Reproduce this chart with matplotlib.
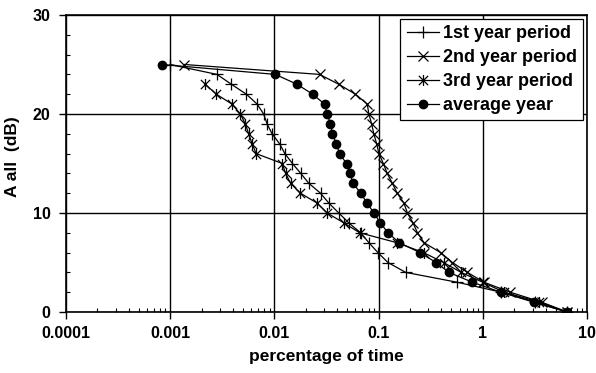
import matplotlib
matplotlib.use("Agg")
import matplotlib.pyplot as plt
from matplotlib.path import Path
from matplotlib.ticker import FixedLocator, NullFormatter, FixedFormatter

plt.rcParams['font.family'] = ['Liberation Sans', 'DejaVu Sans']
plt.rcParams['font.weight'] = 'bold'

# Attenuation levels (dB) and percentage of time exceeded
year1_db = [25, 24, 23, 22, 21, 20, 19, 18, 17, 16, 15, 14, 13, 12, 11, 10, 9, 8, 7, 6, 5, 4, 3, 2, 1, 0]
year1_pct = [0.001, 0.00281, 0.00387, 0.00538, 0.00683, 0.00788, 0.00851, 0.0095, 0.0112, 0.0126,
             0.0149, 0.0179, 0.0214, 0.0277, 0.0333, 0.0415, 0.0518, 0.0671, 0.0807, 0.0985,
             0.123, 0.182, 0.571, 1.5, 3.2, 6.4]

year2_db = [25, 24, 23, 22, 21, 20, 19, 18, 17, 16, 15, 14, 13, 12, 11, 10, 9, 8, 7, 6, 5, 4, 3, 2, 1, 0]
year2_pct = [0.00137, 0.0271, 0.0415, 0.060, 0.0778, 0.0807, 0.0857, 0.090, 0.0957, 0.1007,
             0.111, 0.121, 0.1355, 0.151, 0.175, 0.189, 0.214, 0.236, 0.273, 0.394,
             0.511, 0.712, 1.03, 1.83, 3.66, 6.45]

year3_db = [23, 22, 21, 20, 19, 18, 17, 16, 15, 14, 13, 12, 11, 10, 9, 8, 7, 6, 5, 4, 3, 2, 1, 0]
year3_pct = [0.00217, 0.00277, 0.00392, 0.00471, 0.00526, 0.00566, 0.00611, 0.00667, 0.0119, 0.0128,
             0.0143, 0.0178, 0.0257, 0.0321, 0.0464, 0.066, 0.150, 0.27, 0.42, 0.62,
             1.0, 1.6, 3.5, 6.4]

avg_db = [25, 24, 23, 22, 21, 20, 19, 18, 17, 16, 15, 14, 13, 12, 11, 10, 9, 8, 7, 6, 5, 4, 3, 2, 1, 0]
avg_pct = [0.00084, 0.0102, 0.0165, 0.0233, 0.0303, 0.0321, 0.0345, 0.0361, 0.0392, 0.0422,
           0.0492, 0.053, 0.0571, 0.0671, 0.0778, 0.090, 0.104, 0.123, 0.158, 0.249,
           0.356, 0.474, 0.796, 1.49, 3.07, 6.42]

series_labels = ['1st year period', '2nd year period', '3rd year period', 'average year']
x_ticks = [0.0001, 0.001, 0.01, 0.1, 1, 10]
x_ticklabels = ['0.0001', '0.001', '0.01', '0.1', '1', '10']
y_ticks = [0, 10, 20, 30]

# asterisk marker: a cross with a vertical bar
asterisk = Path([(-1, -1), (1, 1), (-1, 1), (1, -1), (0, -1.2), (0, 1.2)],
                [Path.MOVETO, Path.LINETO, Path.MOVETO, Path.LINETO, Path.MOVETO, Path.LINETO])

fig = plt.figure(figsize=(5.96, 3.73), dpi=100)
ax = fig.add_axes([66 / 596, 1 - 312 / 373, (587 - 66) / 596, (312 - 15) / 373])

lw = 0.9
ax.plot(year1_pct, year1_db, color='black', lw=lw, marker='+', ms=8, mew=0.9, label=series_labels[0], zorder=3)
ax.plot(year2_pct, year2_db, color='black', lw=lw, marker='x', ms=7, mew=0.9, label=series_labels[1], zorder=3)
ax.plot(year3_pct, year3_db, color='black', lw=lw, marker=asterisk, ms=8, mew=0.9, label=series_labels[2], zorder=3)
ax.plot(avg_pct, avg_db, color='black', lw=lw, marker='o', ms=6, label=series_labels[3], zorder=4)

ax.set_xscale('log')
ax.set_xlim(0.0001, 10)
ax.set_ylim(0, 30)

ax.xaxis.set_major_locator(FixedLocator(x_ticks))
ax.xaxis.set_major_formatter(FixedFormatter(x_ticklabels))
ax.xaxis.set_minor_locator(FixedLocator([m * 10.0 ** e for e in range(-4, 1) for m in range(2, 10)]))
ax.xaxis.set_minor_formatter(NullFormatter())
ax.yaxis.set_major_locator(FixedLocator(y_ticks))
ax.yaxis.set_minor_locator(FixedLocator([v for v in range(0, 31, 2) if v % 10]))

ax.tick_params(which='major', direction='out', length=5, width=1, labelsize=11.5, pad=5, color='black')
ax.tick_params(axis='y', which='major', pad=6)
ax.tick_params(which='minor', direction='in', length=3, width=0.8, color='black')
for lbl in ax.get_xticklabels() + ax.get_yticklabels():
    lbl.set_fontweight('bold')

ax.grid(True, which='major', color='black', lw=1.0)
ax.set_axisbelow(True)
for sp in ax.spines.values():
    sp.set_color('black')
    sp.set_linewidth(1.2)

ax.set_xlabel('percentage of time', fontsize=12.5, fontweight='bold', labelpad=6)
ax.set_ylabel('A all  (dB)', fontsize=12.5, fontweight='bold')
ax.yaxis.set_label_coords(-0.088, 0.522)

leg = ax.legend(loc='upper right', bbox_to_anchor=(583 / 596, 1 - 19 / 373), bbox_transform=fig.transFigure,
                fancybox=False, framealpha=1, edgecolor='black', fontsize=13, handlelength=1.8,
                handletextpad=0.2, labelspacing=0.38, borderpad=0.35, borderaxespad=0)
leg.get_frame().set_linewidth(0.9)
for t in leg.get_texts():
    t.set_fontweight('bold')

fig.savefig('out.png', dpi=100)
